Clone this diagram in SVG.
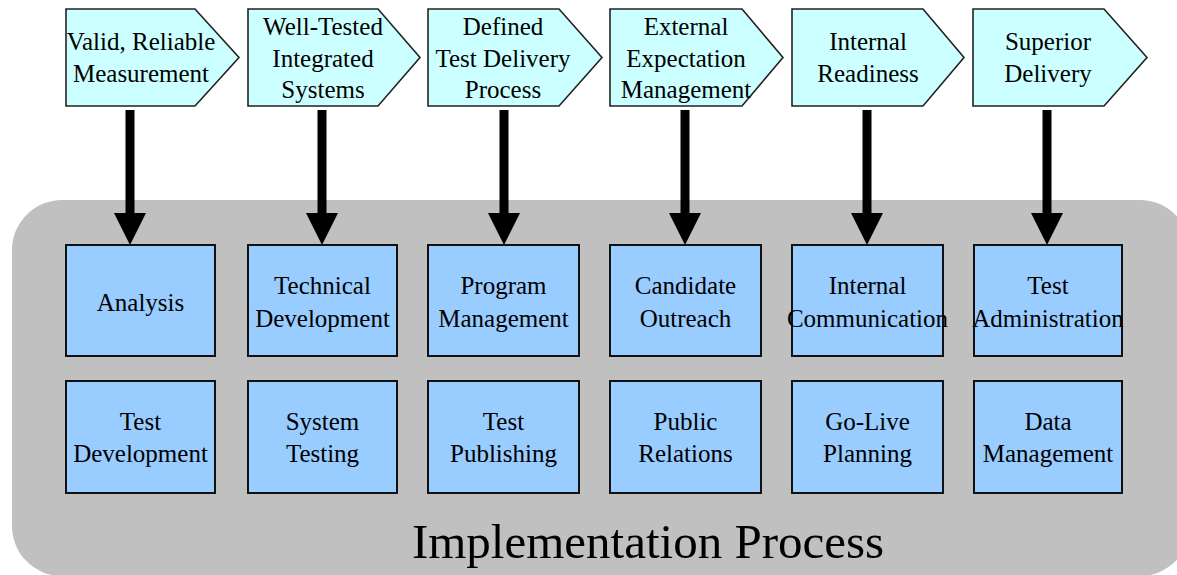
<svg xmlns="http://www.w3.org/2000/svg" width="1177" height="575" viewBox="0 0 1177 575">
<style>
.bg{fill:#c0c0c0;stroke:none}
.chev{fill:#ccffff;stroke:#222;stroke-width:1.6}
.box{fill:#99ccff;stroke:#111;stroke-width:2}
.t{font-family:"Liberation Serif","Times New Roman",serif;font-size:25px;fill:#000;text-anchor:middle}
.big{font-family:"Liberation Serif","Times New Roman",serif;font-size:49px;fill:#000;text-anchor:middle}
.conn{stroke:#000;stroke-width:9;fill:none;marker-end:url(#ah)}
</style>
<defs>
<marker id="ah" markerUnits="userSpaceOnUse" markerWidth="33" markerHeight="34" viewBox="0 -17 33 34" refX="0" refY="0" orient="auto">
<path d="M0,-16 L32,0 L0,16 Z" fill="#000"/>
</marker>
</defs>
<rect class="bg" x="12" y="200" width="1178" height="376" rx="50" ry="50"/>
<g id="c1"><path class="chev" d="M66,9 H195 L239,57.5 L195,106 H66 Z"/><text class="t" x="141" y="50">Valid, Reliable</text><text class="t" x="141" y="82">Measurement</text></g>
<g id="c2"><path class="chev" d="M248,9 H378 L420,57.5 L378,106 H248 Z"/><text class="t" x="323" y="35">Well-Tested</text><text class="t" x="323" y="67">Integrated</text><text class="t" x="323" y="98">Systems</text></g>
<g id="c3"><path class="chev" d="M428,9 H559 L602,57.5 L559,106 H428 Z"/><text class="t" x="503" y="35">Defined</text><text class="t" x="503" y="67">Test Delivery</text><text class="t" x="503" y="98">Process</text></g>
<g id="c4"><path class="chev" d="M610,9 H742 L783,57.5 L742,106 H610 Z"/><text class="t" x="686" y="35">External</text><text class="t" x="686" y="67">Expectation</text><text class="t" x="686" y="98">Management</text></g>
<g id="c5"><path class="chev" d="M792,9 H923 L964,57.5 L923,106 H792 Z"/><text class="t" x="868" y="50">Internal</text><text class="t" x="868" y="82">Readiness</text></g>
<g id="c6"><path class="chev" d="M973,9 H1104 L1147,57.5 L1104,106 H973 Z"/><text class="t" x="1048" y="50">Superior</text><text class="t" x="1048" y="82">Delivery</text></g>
<g id="connectors">
<line class="conn" x1="130" y1="110" x2="130" y2="213"/>
<line class="conn" x1="322" y1="110" x2="322" y2="213"/>
<line class="conn" x1="504" y1="110" x2="504" y2="213"/>
<line class="conn" x1="685" y1="110" x2="685" y2="213"/>
<line class="conn" x1="867" y1="110" x2="867" y2="213"/>
<line class="conn" x1="1047" y1="110" x2="1047" y2="213"/>
</g>
<g id="b1"><rect class="box" x="66" y="245" width="149" height="111"/><text class="t" x="140.5" y="311">Analysis</text></g>
<g id="b2"><rect class="box" x="248" y="245" width="149" height="111"/><text class="t" x="322.5" y="294">Technical</text><text class="t" x="322.5" y="327">Development</text></g>
<g id="b3"><rect class="box" x="428" y="245" width="151" height="111"/><text class="t" x="503.5" y="294">Program</text><text class="t" x="503.5" y="327">Management</text></g>
<g id="b4"><rect class="box" x="610" y="245" width="151" height="111"/><text class="t" x="685.5" y="294">Candidate</text><text class="t" x="685.5" y="327">Outreach</text></g>
<g id="b5"><rect class="box" x="792" y="245" width="151" height="111"/><text class="t" x="867.5" y="294">Internal</text><text class="t" x="867.5" y="327">Communication</text></g>
<g id="b6"><rect class="box" x="974" y="245" width="148" height="111"/><text class="t" x="1048" y="294">Test</text><text class="t" x="1048" y="327">Administration</text></g>
<g id="b7"><rect class="box" x="66" y="381" width="149" height="112"/><text class="t" x="140.5" y="430">Test</text><text class="t" x="140.5" y="462">Development</text></g>
<g id="b8"><rect class="box" x="248" y="381" width="149" height="112"/><text class="t" x="322.5" y="430">System</text><text class="t" x="322.5" y="462">Testing</text></g>
<g id="b9"><rect class="box" x="428" y="381" width="151" height="112"/><text class="t" x="503.5" y="430">Test</text><text class="t" x="503.5" y="462">Publishing</text></g>
<g id="b10"><rect class="box" x="610" y="381" width="151" height="112"/><text class="t" x="685.5" y="430">Public</text><text class="t" x="685.5" y="462">Relations</text></g>
<g id="b11"><rect class="box" x="792" y="381" width="151" height="112"/><text class="t" x="867.5" y="430">Go-Live</text><text class="t" x="867.5" y="462">Planning</text></g>
<g id="b12"><rect class="box" x="974" y="381" width="148" height="112"/><text class="t" x="1048" y="430">Data</text><text class="t" x="1048" y="462">Management</text></g>
<text class="big" x="648" y="558">Implementation Process</text>
</svg>
